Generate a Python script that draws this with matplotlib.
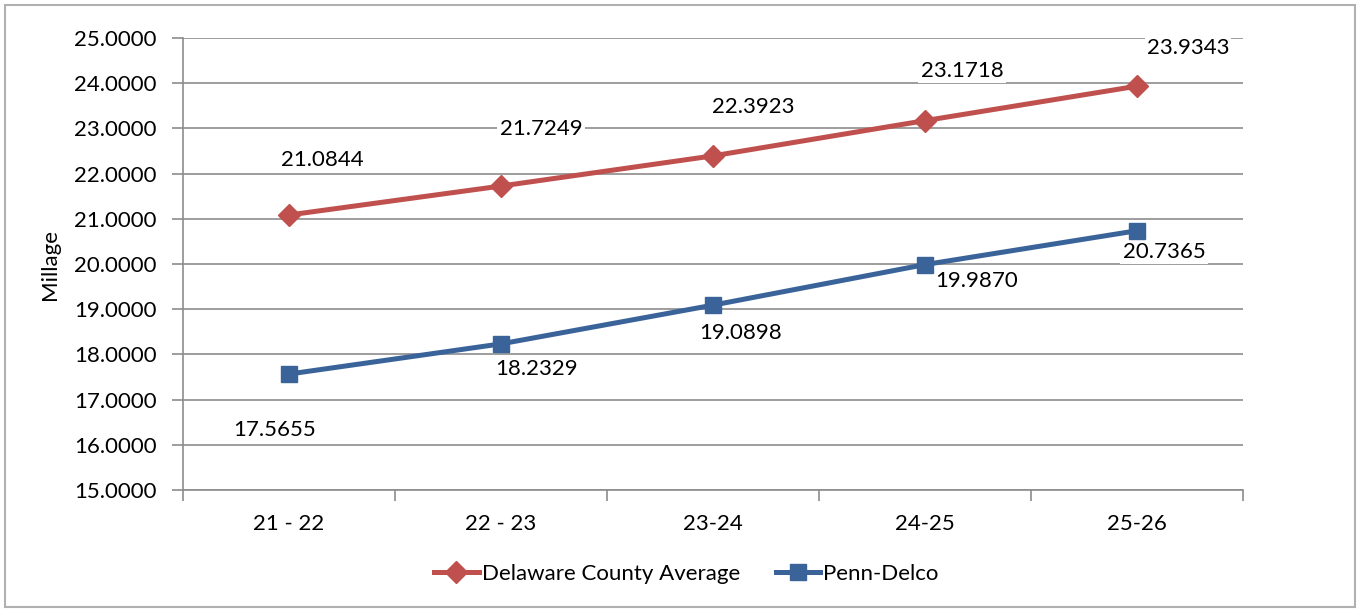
import matplotlib
matplotlib.use("Agg")
import matplotlib.pyplot as plt
from matplotlib.patches import Rectangle
import numpy as np

# data
years = ["21 - 22", "22 - 23", "23-24", "24-25", "25-26"]
delaware = [21.0844, 21.7249, 22.3923, 23.1718, 23.9343]
penn_delco = [17.5655, 18.2329, 19.0898, 19.9870, 20.7365]

# label offsets in pixels (labels were dragged around in the original)
delaware_offsets = [(33, 55), (40, 57), (40, 49), (37, 50), (51, 38)]
penn_offsets = [(-14, -56), (36, -25), (28, -28), (52, -16), (27, -21)]

RED = "#c0504d"
BLUE = "#3a6499"
GRID = "#8c8c8c"
FS = 16

plt.rcParams["font.family"] = ["Lato", "DejaVu Sans"]

fig = plt.figure(figsize=(13.57, 6.09), dpi=100)
ax = fig.add_axes([183 / 1357, 1 - 490 / 609, 1060 / 1357, 452 / 609])

# outer frame of the chart object
fig.patches.append(Rectangle((5 / 1357, 2 / 609), 1350 / 1357, 602 / 609,
                             transform=fig.transFigure, fill=False,
                             edgecolor="#b0b0b0", linewidth=1.5))

x = np.arange(len(years))
ax.plot(x, delaware, color=RED, lw=3.6, marker="D", ms=11, zorder=4,
        label="Delaware County Average")
ax.plot(x, penn_delco, color=BLUE, lw=3.6, marker="s", ms=12, zorder=4,
        label="Penn-Delco")

box = dict(boxstyle="square,pad=0.1", fc="white", ec="none")
for xi, v, off in zip(x, delaware, delaware_offsets):
    ax.annotate("{:.4f}".format(v), (xi, v), xytext=off, textcoords="offset pixels",
                ha="center", va="center", fontsize=FS, bbox=box, zorder=3)
for xi, v, off in zip(x, penn_delco, penn_offsets):
    ax.annotate("{:.4f}".format(v), (xi, v), xytext=off, textcoords="offset pixels",
                ha="center", va="center", fontsize=FS, bbox=box, zorder=3)

ax.set_xlim(-0.5, len(years) - 0.5)
ax.set_ylim(15, 25)
ax.set_yticks(np.arange(15, 25.1, 1))
ax.set_yticklabels(["{:.4f}".format(t) for t in np.arange(15, 25.1, 1)])
ax.set_xticks(x)
ax.set_xticklabels(years)
ax.set_xticks(np.arange(-0.5, len(years)), minor=True)
ax.tick_params(axis="x", which="major", length=0, pad=17, labelsize=FS)
ax.tick_params(axis="x", which="minor", length=8, color=GRID, width=1.2)
ax.tick_params(axis="y", length=8, color=GRID, width=1.2, pad=11, labelsize=FS)

ax.grid(axis="y", color=GRID, lw=1.2, zorder=0)
ax.set_axisbelow(True)
for s in ["top", "right"]:
    ax.spines[s].set_visible(False)
for s in ["left", "bottom"]:
    ax.spines[s].set_color(GRID)
    ax.spines[s].set_linewidth(1.2)

ax.set_ylabel("Millage", fontsize=FS, labelpad=10)

ax.legend(loc="center", bbox_to_anchor=(0.475, -0.185), ncol=2, frameon=False,
          fontsize=FS, handlelength=2.0, handletextpad=0.15, columnspacing=1.6)

fig.savefig("out.png", dpi=100, facecolor="white")
